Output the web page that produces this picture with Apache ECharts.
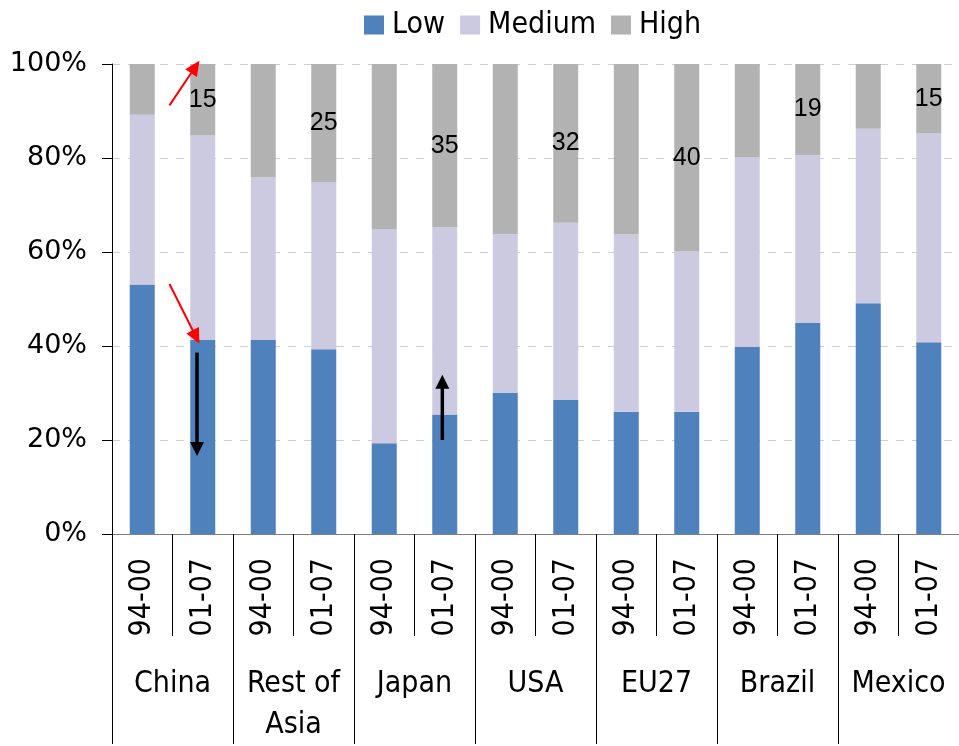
<!DOCTYPE html>
<html>
<head>
<meta charset="utf-8">
<style>
html,body{margin:0;padding:0;background:#fff;}
#chart{width:959px;height:746px;}
</style>
<script src="https://cdn.jsdelivr.net/npm/echarts@6/dist/echarts.min.js"></script>
</head>
<body>
<div id="chart"></div>
<script>
// ---- data ----
const periods = ['94-00','01-07','94-00','01-07','94-00','01-07','94-00','01-07','94-00','01-07','94-00','01-07','94-00','01-07'];
const countries = ['China','Rest of\nAsia','Japan','USA','EU27','Brazil','Mexico'];
const seriesNames = ['Low','Medium','High'];
const lowValues    = [53.1, 41.3, 41.3, 39.3, 19.3, 25.4, 30.0, 28.5, 26.0, 26.0, 39.8, 44.9, 49.1, 40.8];
const mediumValues = [36.1, 43.5, 34.6, 35.6, 45.5, 39.8, 33.8, 37.7, 37.7, 34.1, 40.3, 35.7, 37.1, 44.4];
const highValues   = [10.8, 15.2, 24.1, 25.1, 35.2, 34.8, 36.2, 33.8, 36.3, 39.9, 19.9, 19.4, 13.8, 14.8];
const highLabels   = ['', '15', '', '25', '', '35', '', '32', '', '40', '', '19', '', '15'];
const yTicks = [0, 20, 40, 60, 80, 100];
// annotation arrows: [fromIndex, fromValue, toIndex, toValue, color]
const arrows = [
  [0.45, 91.2, 0.945, 100.7, 'red'],
  [0.45, 53.2, 0.945, 40.5, 'red'],
  [0.905, 38.6, 0.905, 16.6, 'black'],
  [4.96, 20.0, 4.96, 33.9, 'black']
];

const FONT = '"DejaVu Sans Condensed", "DejaVu Sans", sans-serif';
const chart = echarts.init(document.getElementById('chart'), null, {renderer: 'canvas'});

const option = {
  animation: false,
  backgroundColor: '#ffffff',
  legend: {
    data: seriesNames,
    left: 359,
    top: 5,
    itemWidth: 20,
    itemHeight: 19,
    itemGap: 15,
    icon: 'rect',
    textStyle: {fontFamily: FONT, fontSize: 30, color: '#000', padding: [0, 0, 0, 3]}
  },
  grid: {left: 112, top: 64, width: 856, height: 475, containLabel: false},
  xAxis: [
    {
      type: 'category',
      data: periods,
      position: 'bottom',
      axisLine: {show: true, lineStyle: {color: '#808080', width: 1}},
      axisTick: {show: true, interval: 0, length: 102, lineStyle: {color: '#000', width: 1}},
      axisLabel: {interval: 0, rotate: 90, margin: 24, fontFamily: FONT, fontSize: 30, color: '#000'},
      splitLine: {show: false}
    },
    {
      type: 'category',
      data: countries,
      position: 'bottom',
      offset: 0,
      axisLine: {show: false},
      axisTick: {show: true, interval: 0, length: 210, lineStyle: {color: '#000', width: 1}},
      axisLabel: {interval: 0, margin: 130, fontFamily: FONT, fontSize: 30, lineHeight: 41, color: '#000', align: 'center'},
      splitLine: {show: false}
    }
  ],
  yAxis: {
    type: 'value',
    min: 0,
    max: 100,
    interval: 20,
    axisLine: {show: true, lineStyle: {color: '#000', width: 1}},
    axisTick: {show: true, length: 10, lineStyle: {color: '#000'}},
    axisLabel: {margin: 25, fontFamily: '"DejaVu Sans", sans-serif', fontSize: 27, color: '#000',
      formatter: v => yTicks.indexOf(v) >= 0 ? v + '%' : ''},
    splitLine: {show: true, lineStyle: {color: '#cfcfcf', type: [8, 8], width: 1}}
  },
  series: [
    {name: 'Low', type: 'bar', stack: 'total', barWidth: 25, data: lowValues,
     itemStyle: {color: '#4F81BD'}},
    {name: 'Medium', type: 'bar', stack: 'total', barWidth: 25, data: mediumValues,
     itemStyle: {color: '#CCCAE1'}},
    {name: 'High', type: 'bar', stack: 'total', barWidth: 25, data: highValues,
     itemStyle: {color: '#B2B2B2'},
     label: {show: true, position: 'inside', fontFamily: '"Liberation Sans", Arial, sans-serif',
       fontSize: 25, color: '#000', formatter: p => highLabels[p.dataIndex]}}
  ]
};
chart.setOption(option);

// annotation arrows placed through the axes' scales
function px(i, v) {
  const a = chart.convertToPixel({xAxisIndex: 0}, 0);
  const b = chart.convertToPixel({xAxisIndex: 0}, 1);
  const y = chart.convertToPixel({yAxisIndex: 0}, v);
  return [a + (b - a) * i, y];
}
const graphics = [];
arrows.forEach(ar => {
  const p1 = px(ar[0], ar[1]);
  const p2 = px(ar[2], ar[3]);
  const isRed = ar[4] === 'red';
  const lw = isRed ? 2 : 3.5;
  const hl = isRed ? 15 : 14;
  const hw = 7;
  const dx = p2[0] - p1[0], dy = p2[1] - p1[1];
  const len = Math.sqrt(dx * dx + dy * dy);
  const ux = dx / len, uy = dy / len;
  const bx = p2[0] - ux * hl, by = p2[1] - uy * hl;
  graphics.push({type: 'line', silent: true, z: 100,
    shape: {x1: p1[0], y1: p1[1], x2: bx + ux * 2, y2: by + uy * 2},
    style: {stroke: ar[4], lineWidth: lw}});
  graphics.push({type: 'polygon', silent: true, z: 100,
    shape: {points: [[p2[0], p2[1]], [bx - uy * hw, by + ux * hw], [bx + uy * hw, by - ux * hw]]},
    style: {fill: ar[4]}});
});
chart.setOption({graphic: graphics});
</script>
</body>
</html>
